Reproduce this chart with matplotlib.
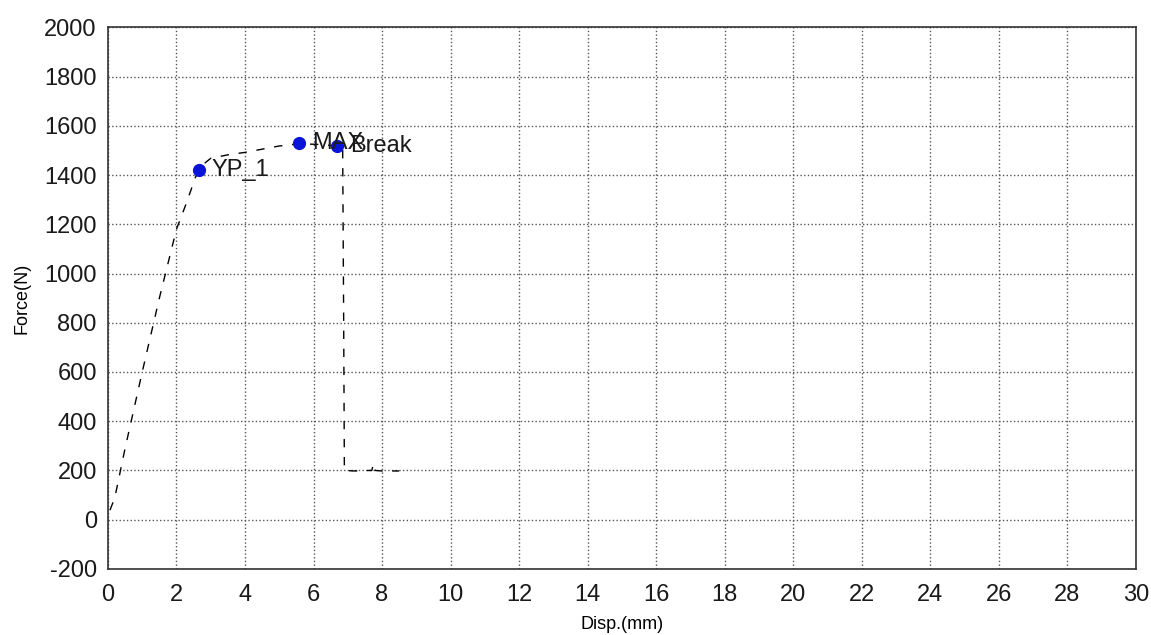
import matplotlib
matplotlib.use("Agg")
import matplotlib.pyplot as plt

# force-displacement curve
disp = [0.06, 0.2, 0.5, 0.75, 1.0, 1.5, 2.0, 2.3, 2.55, 2.75, 3.0, 3.5, 4.0, 4.5,
        5.0, 5.6, 6.2, 6.7, 6.85, 6.88, 6.9, 7.2, 7.6, 7.7, 7.75, 7.8, 8.0, 8.5]
force = [39, 90, 290, 445, 600, 900, 1180, 1290, 1390, 1440, 1468, 1482, 1492, 1505,
         1518, 1527, 1524, 1518, 1515, 800, 200, 198, 200, 200, 228, 200, 198, 198]

# marked points
point_names = ["YP_1", "MAX", "Break"]
point_disp = [2.65, 5.58, 6.69]
point_force = [1422, 1529, 1516]

x_ticks = list(range(0, 31, 2))
y_ticks = list(range(-200, 2001, 200))

plt.rcParams["font.family"] = ["Liberation Sans", "DejaVu Sans"]
plt.rcParams["axes.unicode_minus"] = False

fig = plt.figure(figsize=(11.51, 6.35), dpi=100)
ax = fig.add_axes([0.0938, 0.104, 0.893, 0.853])

ax.plot(disp, force, color="black", lw=1.0, dashes=(6, 7))
ax.plot(point_disp, point_force, "o", color="#0a14d8", ms=8.5, zorder=4)
for name, x, y in zip(point_names, point_disp, point_force):
    ax.annotate(name, (x, y), xytext=(9, 0), textcoords="offset points",
                va="center", ha="left", fontsize=17, color="#1a1a1a", zorder=5)

ax.set_xlim(0, 30)
ax.set_ylim(-200, 2000)
ax.set_xticks(x_ticks)
ax.set_yticks(y_ticks)
ax.tick_params(length=0, labelsize=17, colors="#1a1a1a")
ax.tick_params(axis="x", pad=11)
ax.tick_params(axis="y", pad=8)
ax.grid(True, linestyle=":", color="#555555", linewidth=1.0)
for s in ax.spines.values():
    s.set_color("#333333")
    s.set_linewidth(1.2)

ax.set_xlabel("Disp.(mm)", fontsize=13, labelpad=7)
ax.set_ylabel("Force(N)", fontsize=13, labelpad=10)

fig.savefig("out.png", dpi=100)
